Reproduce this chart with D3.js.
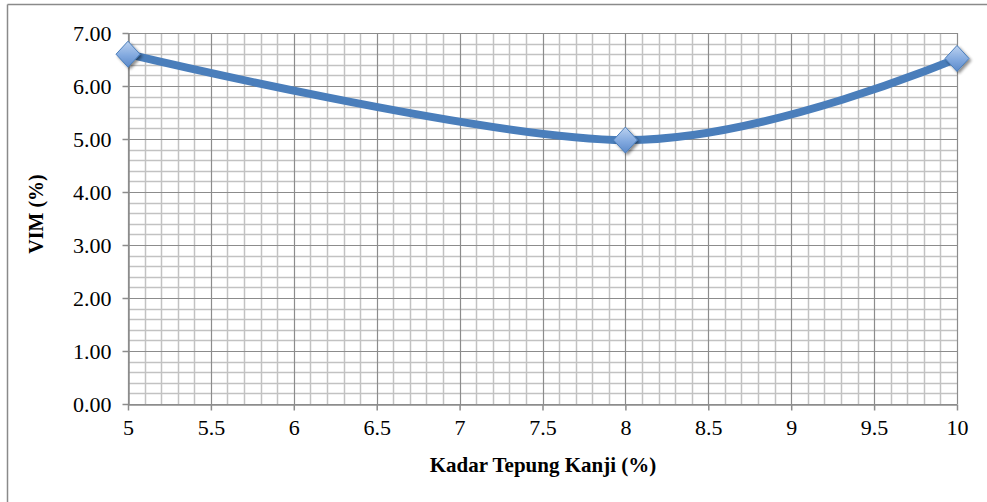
<!DOCTYPE html>
<html>
<head>
<meta charset="utf-8">
<script src="https://cdn.jsdelivr.net/npm/d3@7"></script>
<style>
  html, body { margin: 0; padding: 0; background: #fff; }
  svg { display: block; }
  text { font-family: "Liberation Serif", "Times New Roman", serif; fill: #000; }
  .tick text { font-family: "Liberation Serif", "Times New Roman", serif !important; font-size: 22px !important; fill: #000 !important; }
  .title { font-weight: bold; }
</style>
</head>
<body>
<svg id="chart" width="987" height="502"></svg>
<script>
// Starch content (%) vs VIM (%)
const kadar = [5, 8, 10];
const vim = [6.60, 4.98, 6.52];
const xTicks = [5, 5.5, 6, 6.5, 7, 7.5, 8, 8.5, 9, 9.5, 10];
const yTicks = [0, 1, 2, 3, 4, 5, 6, 7];
const xTitle = "Kadar Tepung Kanji (%)";
const yTitle = "VIM (%)";

const svg = d3.select("#chart");
const W = 987, H = 502;
const m = { left: 128, right: 30, top: 33, bottom: 98 };

const x = d3.scaleLinear().domain([5, 10]).range([m.left, 957]);
const y = d3.scaleLinear().domain([0, 7]).range([404, m.top]);

// frame (top and left edges of the chart area)
svg.append("line").attr("x1", 7.5).attr("x2", W).attr("y1", 4.5).attr("y2", 4.5)
  .attr("stroke", "#8a8a8a").attr("stroke-width", 1.5);
svg.append("line").attr("x1", 7.5).attr("x2", 7.5).attr("y1", 4.5).attr("y2", H)
  .attr("stroke", "#8a8a8a").attr("stroke-width", 1.5);

const defs = svg.append("defs");
const grad = defs.append("linearGradient").attr("id", "mk")
  .attr("x1", "0").attr("y1", "0").attr("x2", "0").attr("y2", "1");
grad.append("stop").attr("offset", "0%").attr("stop-color", "#bcd2f0");
grad.append("stop").attr("offset", "55%").attr("stop-color", "#82a9df");
grad.append("stop").attr("offset", "100%").attr("stop-color", "#5b89c9");
const sh = defs.append("filter").attr("id", "sh").attr("x", "-50%").attr("y", "-50%")
  .attr("width", "200%").attr("height", "200%");
sh.append("feGaussianBlur").attr("in", "SourceAlpha").attr("stdDeviation", 1.6).attr("result", "b");
sh.append("feOffset").attr("in", "b").attr("dx", 2).attr("dy", 2).attr("result", "o");
sh.append("feComponentTransfer").attr("in", "o").attr("result", "oa")
  .append("feFuncA").attr("type", "linear").attr("slope", 0.45);
const mg = sh.append("feMerge");
mg.append("feMergeNode").attr("in", "oa");
mg.append("feMergeNode").attr("in", "SourceGraphic");

// minor grid
const g = svg.append("g");
const minorX = d3.range(51, 100).map(d => d / 10).filter(v => Math.abs(v * 2 - Math.round(v * 2)) > 1e-6);
const minorY = d3.range(1, 35).map(d => d / 5).filter(v => Math.abs(v - Math.round(v)) > 1e-6);
g.selectAll(".mx").data(minorX).join("line")
  .attr("x1", d => Math.round(x(d)) + 0.5).attr("x2", d => Math.round(x(d)) + 0.5)
  .attr("y1", y(7)).attr("y2", y(0))
  .attr("stroke", "#c2c2c2").attr("stroke-width", 1.5);
g.selectAll(".my").data(minorY).join("line")
  .attr("x1", x(5)).attr("x2", x(10))
  .attr("y1", d => Math.round(y(d)) + 0.5).attr("y2", d => Math.round(y(d)) + 0.5)
  .attr("stroke", "#c2c2c2").attr("stroke-width", 1.5);
// major grid
g.selectAll(".Mx").data(xTicks).join("line")
  .attr("x1", d => Math.round(x(d)) + 0.5).attr("x2", d => Math.round(x(d)) + 0.5)
  .attr("y1", y(7)).attr("y2", y(0))
  .attr("stroke", "#8c8c8c").attr("stroke-width", 1.2);
g.selectAll(".My").data(yTicks).join("line")
  .attr("x1", x(5)).attr("x2", x(10))
  .attr("y1", d => Math.round(y(d)) + 0.5).attr("y2", d => Math.round(y(d)) + 0.5)
  .attr("stroke", "#8c8c8c").attr("stroke-width", 1.2);

// axes
const yAxis = svg.append("g").attr("transform", `translate(${x(5) + 0.5},0)`)
  .call(d3.axisLeft(y).tickValues(yTicks).tickSize(6).tickSizeOuter(0).tickPadding(11)
    .tickFormat(d3.format(".2f")));
const xAxis = svg.append("g").attr("transform", `translate(0,${y(0) + 0.5})`)
  .call(d3.axisBottom(x).tickValues(xTicks).tickSize(6).tickSizeOuter(0).tickPadding(9)
    .tickFormat(d => d3.format("")(d)));
[yAxis, xAxis].forEach(a => {
  a.attr("font-family", null).attr("font-size", null);
  a.select(".domain").attr("stroke", "#8c8c8c").attr("stroke-width", 1.5);
  a.selectAll(".tick line").attr("stroke", "#8c8c8c").attr("stroke-width", 1.5);
});

// axis titles
svg.append("text").attr("class", "title").attr("x", 543).attr("y", 472).attr("text-anchor", "middle")
  .attr("font-size", 21).text(xTitle);
svg.append("text").attr("class", "title").attr("transform", `translate(36,214) rotate(-90)`)
  .attr("text-anchor", "middle").attr("dy", "0.35em")
  .attr("font-size", 20).text(yTitle);

// smoothed series line
const pts = kadar.map((k, i) => [k, vim[i]]);
svg.append("path").datum(pts)
  .attr("d", d3.line().x(d => x(d[0])).y(d => y(d[1])).curve(d3.curveCardinal.tension(0)))
  .attr("fill", "none").attr("stroke", "#4a7ebb").attr("stroke-width", 8)
  .attr("stroke-linecap", "round").attr("stroke-linejoin", "round");

// diamond markers
svg.selectAll(".mk").data(pts).join("path")
  .attr("transform", d => `translate(${x(d[0])},${y(d[1])})`)
  .attr("d", "M0,-13L12,0L0,13L-12,0Z")
  .attr("fill", "url(#mk)").attr("stroke", "#4a7ebb").attr("stroke-width", 1)
  .attr("filter", "url(#sh)");
</script>
</body>
</html>
